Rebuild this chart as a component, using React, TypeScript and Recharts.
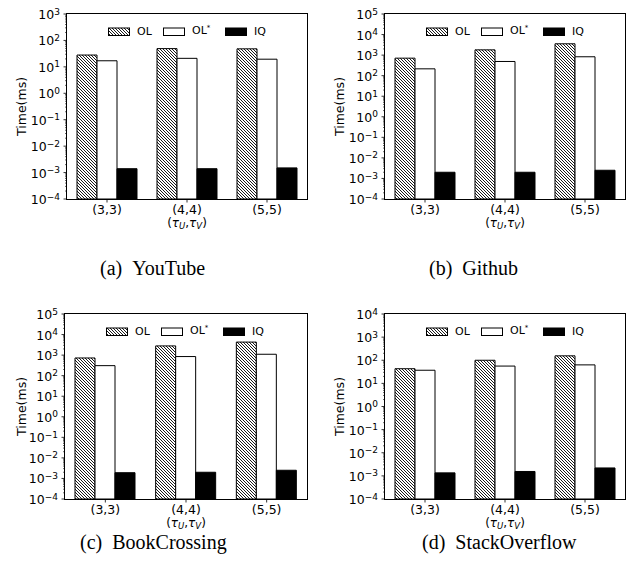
import { Bar, BarChart, Legend, XAxis, YAxis } from "recharts";

const categories = ["(3,3)", "(4,4)", "(5,5)"];

// running time in ms
const youtubeOL = [28, 49, 48];
const youtubeOLStar = [17, 21, 19.5];
const youtubeIQ = [0.0014, 0.0014, 0.0015];

const githubOL = [710, 1800, 3550];
const githubOLStar = [215, 490, 830];
const githubIQ = [0.002, 0.002, 0.0025];

const bookOL = [725, 2800, 4300];
const bookOLStar = [307, 850, 1100];
const bookIQ = [0.0019, 0.002, 0.0025];

const stackOL = [43, 100, 155];
const stackOLStar = [37, 56, 63];
const stackIQ = [0.00135, 0.00155, 0.0022];

const minExp = -4;

const font = "'DejaVu Sans', sans-serif";
const serif = "'Liberation Serif', 'Times New Roman', serif";

const chartW = 318;
const chartH = 240;
const xAxisH = 30;
const margin = { top: 14, right: 11, bottom: 41 - xAxisH, left: 0 };

type Panel = {
  id: string;
  caption: string;
  ol: number[];
  olStar: number[];
  iq: number[];
  maxExp: number;
  left: number;
  top: number;
  axisWidth: number;
  captionX: number;
  captionY: number;
};

const panels: Panel[] = [
  { id: "a", caption: "(a)\u00a0\u00a0YouTube", ol: youtubeOL, olStar: youtubeOLStar, iq: youtubeIQ, maxExp: 3, left: 0, top: 0, axisWidth: 67, captionX: 100, captionY: 275 },
  { id: "b", caption: "(b)\u00a0\u00a0Github", ol: githubOL, olStar: githubOLStar, iq: githubIQ, maxExp: 5, left: 318, top: 0, axisWidth: 67, captionX: 429, captionY: 275 },
  { id: "c", caption: "(c)\u00a0\u00a0BookCrossing", ol: bookOL, olStar: bookOLStar, iq: bookIQ, maxExp: 5, left: 0, top: 300, axisWidth: 65, captionX: 80, captionY: 549 },
  { id: "d", caption: "(d)\u00a0\u00a0StackOverflow", ol: stackOL, olStar: stackOLStar, iq: stackIQ, maxExp: 4, left: 318, top: 300, axisWidth: 67, captionX: 422, captionY: 549 },
];

const logTicks = (maxExp: number) => {
  const out: number[] = [];
  for (let e = minExp; e <= maxExp; e++) {
    out.push(Math.pow(10, e));
    if (e < maxExp) for (let m = 2; m <= 9; m++) out.push(m * Math.pow(10, e));
  }
  return out;
};

const LogTick = (props: any) => {
  const { x, y, payload } = props;
  const v = payload.value as number;
  const exp = Math.log10(v);
  const ax = x + 7;
  const major = Math.abs(exp - Math.round(exp)) < 1e-6;
  if (!major) {
    return <line x1={ax - 2} x2={ax} y1={y} y2={y} stroke="#000" strokeWidth={0.6} />;
  }
  const e = Math.round(exp);
  return (
    <g>
      <line x1={ax - 3.5} x2={ax} y1={y} y2={y} stroke="#000" strokeWidth={0.8} />
      <text x={x} y={y + 5} textAnchor="end" fontFamily={font} fontSize={12.5} fill="#000">
        10
        <tspan dy={-4.5} fontSize={9}>
          {e < 0 ? `\u2212${-e}` : `${e}`}
        </tspan>
      </text>
    </g>
  );
};

const legendItems = [
  { name: "OL", star: false, fill: "url(#hatch)" },
  { name: "OL", star: true, fill: "#fff" },
  { name: "IQ", star: false, fill: "#000" },
];
const legendOffsets = [0, 55, 117];

const LegendBox = () => (
  <div style={{ position: "relative", width: 190, height: 10, fontFamily: font, fontSize: 11, color: "#000" }}>
    {legendItems.map((it, i) => (
      <div key={i} style={{ position: "absolute", left: legendOffsets[i], top: 0, height: 10, display: "flex", alignItems: "center", whiteSpace: "nowrap" }}>
        <svg width={23} height={10} style={{ display: "block" }}>
          <rect x={0.5} y={1} width={21} height={7.5} fill={it.fill} stroke="#000" strokeWidth={1} />
        </svg>
        <span style={{ marginLeft: 6, lineHeight: "10px" }}>
          {it.name}
          {it.star && <span style={{ fontSize: 7, position: "relative", top: -4 }}>*</span>}
        </span>
      </div>
    ))}
  </div>
);

function PanelChart({ p }: { p: Panel }) {
  const rows = categories.map((cat, i) => ({ cat, ol: p.ol[i], olStar: p.olStar[i], iq: p.iq[i] }));
  return (
    <div style={{ position: "absolute", left: p.left, top: p.top, width: chartW, height: chartH }}>
      <BarChart width={chartW} height={chartH} data={rows} margin={margin} barCategoryGap={10} barGap={0}>
        <XAxis
          dataKey="cat"
          height={xAxisH}
          axisLine={false}
          tickLine={{ stroke: "#000", strokeWidth: 0.8 }}
          tickSize={3.5}
          tickMargin={2.5}
          interval={0}
          tick={{ fontFamily: font, fontSize: 12.5, fill: "#000" }}
        />
        <YAxis
          scale="log"
          domain={[Math.pow(10, minExp), Math.pow(10, p.maxExp)]}
          allowDataOverflow
          ticks={logTicks(p.maxExp)}
          interval={0}
          width={p.axisWidth}
          axisLine={false}
          tickLine={false}
          tickSize={3.5}
          tickMargin={3.5}
          tick={<LogTick />}
        />
        <Legend
          layout="horizontal"
          verticalAlign="middle"
          align="center"
          content={() => <LegendBox />}
          wrapperStyle={{ top: 26.5, left: p.axisWidth + 41, width: 190, height: 10 }}
        />
        <Bar dataKey="ol" name="OL" fill="url(#hatch)" stroke="#000" strokeWidth={1} isAnimationActive={false} />
        <Bar dataKey="olStar" name="OL*" fill="#fff" stroke="#000" strokeWidth={1} isAnimationActive={false} />
        <Bar dataKey="iq" name="IQ" fill="#000" stroke="#000" strokeWidth={1} isAnimationActive={false} />
      </BarChart>
    </div>
  );
}

export default function App() {
  return (
    <div style={{ position: "absolute", left: 0, top: 0, width: 637, height: 578, background: "#fff", overflow: "hidden" }}>
      <svg width={0} height={0} style={{ position: "absolute" }}>
        <defs>
          <pattern id="hatch" patternUnits="userSpaceOnUse" width={3} height={3}>
            <rect width={3} height={3} fill="#fff" />
            <path d="M-1,-1 L4,4 M-1,2 L1,4 M2,-1 L4,1" stroke="#000" strokeWidth={0.9} />
          </pattern>
        </defs>
      </svg>
      {panels.map((p) => (
        <PanelChart key={p.id} p={p} />
      ))}
      <svg width={637} height={578} style={{ position: "absolute", left: 0, top: 0, pointerEvents: "none" }}>
        {panels.map((p) => {
          const x0 = p.left + p.axisWidth;
          const x1 = p.left + chartW - margin.right;
          const y0 = p.top + margin.top;
          const y1 = p.top + chartH - margin.bottom - xAxisH;
          const cx = (x0 + x1) / 2;
          const cy = (y0 + y1) / 2;
          return (
            <g key={p.id}>
              <rect x={x0 - 0.5} y={y0 - 0.5} width={x1 - x0 + 1} height={y1 - y0 + 1} fill="none" stroke="#000" strokeWidth={1} />
              <text
                x={p.left + 25.5}
                y={cy}
                transform={`rotate(-90, ${p.left + 25.5}, ${cy})`}
                textAnchor="middle"
                fontFamily={font}
                fontSize={12.5}
                fill="#000"
              >
                Time(ms)
              </text>
              <text x={cx} y={y1 + 27.5} textAnchor="middle" fontFamily={font} fontSize={12} fill="#000">
                (<tspan fontStyle="italic">τ</tspan>
                <tspan fontStyle="italic" fontSize={8.5} dy={2}>U</tspan>
                <tspan dy={-2}>,</tspan>
                <tspan fontStyle="italic">τ</tspan>
                <tspan fontStyle="italic" fontSize={8.5} dy={2}>V</tspan>
                <tspan dy={-2}>)</tspan>
              </text>
              <text x={p.captionX} y={p.captionY} fontFamily={serif} fontSize={20} fill="#000">
                {p.caption}
              </text>
            </g>
          );
        })}
      </svg>
    </div>
  );
}
